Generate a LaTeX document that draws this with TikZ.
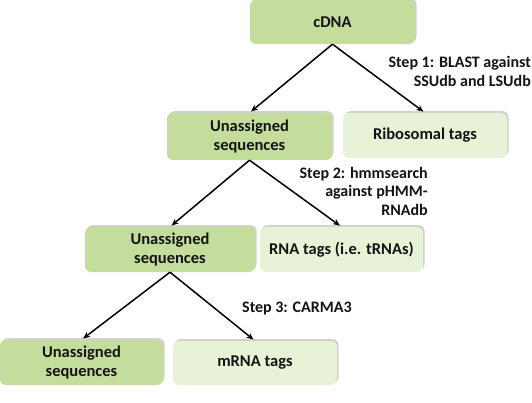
\documentclass[tikz,border=0pt]{standalone}
\usepackage{fontspec}
\setmainfont{Carlito}
\usetikzlibrary{shadows,arrows.meta}
\definecolor{boxdark}{HTML}{C4DD9C}
\definecolor{boxlight}{HTML}{E8F2D7}
\definecolor{txt}{HTML}{141414}
\tikzset{
  box/.style={rounded corners=6pt, minimum height=45pt, inner sep=2pt, align=center,
    font=\fontsize{16.5}{19.5}\selectfont\bfseries, text=txt,
    drop shadow={shadow xshift=1.5pt, shadow yshift=1.8pt, fill=black!40, opacity=.45}},
  darkbox/.style={box, fill=boxdark},
  lightbox/.style={box, fill=boxlight},
  steplabel/.style={font=\fontsize{16}{18.5}\selectfont\bfseries, text=txt, inner sep=0pt},
  conn/.style={-{Stealth[length=7pt,width=6pt]}, line width=1.5pt, shorten >=2pt}
}
\begin{document}
\begin{tikzpicture}[x=1pt,y=-1pt]
\useasboundingbox[fill=white] (0,0) rectangle (532,403);
\node[darkbox, minimum width=165pt, minimum height=44pt] (cdna) at (332.5,22) {cDNA};
\node[darkbox, minimum width=165pt, minimum height=47pt] (un1) at (249.5,136.5) {Unassigned\\sequences};
\node[lightbox, minimum width=164pt, minimum height=45pt] (ribo) at (425,135.5) {Ribosomal tags};
\node[darkbox, minimum width=170pt] (un2) at (170,249.5) {Unassigned\\sequences};
\node[lightbox, minimum width=163pt] (rna) at (341.5,249.5) {RNA tags (i.e. tRNAs)};
\node[darkbox, minimum width=163pt] (un3) at (81.5,362.5) {Unassigned\\sequences};
\node[lightbox, minimum width=164pt, minimum height=44pt] (mrna) at (255,363) {mRNA tags};

\draw[conn] (cdna.south) -- (un1.north);
\draw[conn] (cdna.south) -- (ribo.north);
\draw[conn] (un1.south) -- (un2.north);
\draw[conn] (un1.south) -- (rna.north);
\draw[conn] (un2.south) -- (un3.north);
\draw[conn] (un2.south) -- (mrna.north);

\node[steplabel, align=right, anchor=east] (s1) at (531,71.5) {Step 1: BLAST against\\SSUdb and LSUdb};
\node[steplabel, align=right, anchor=east] (s2) at (428,191) {Step 2: hmmsearch\\against pHMM-\\RNAdb};
\node[steplabel, anchor=west] (s3) at (242,308.5) {Step 3: CARMA3};
\end{tikzpicture}
\end{document}
